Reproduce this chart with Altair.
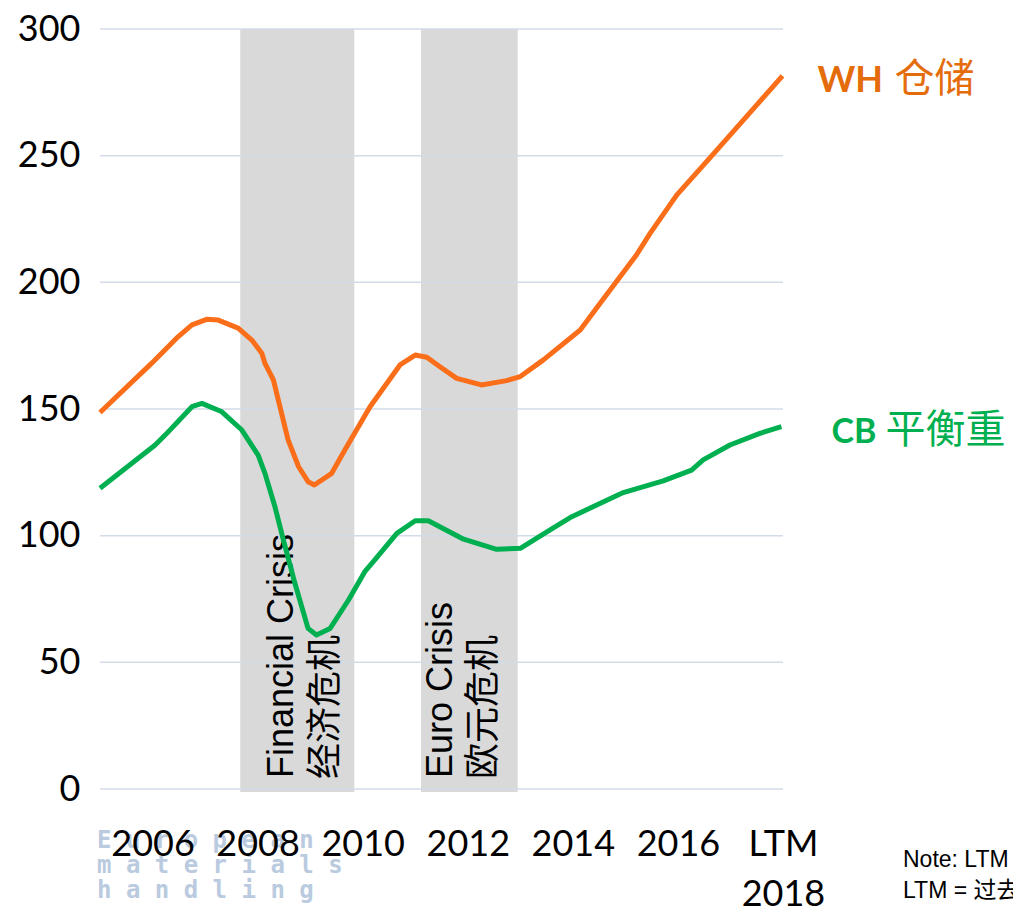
import altair as alt
import pandas as pd

# ---- data ----
wh_year = [2005.00, 2005.98, 2006.49, 2006.75, 2007.03, 2007.25, 2007.63, 2007.89, 2008.08,
           2008.14, 2008.30, 2008.58, 2008.78, 2008.96, 2009.08, 2009.41, 2009.66, 2010.14,
           2010.71, 2011.00, 2011.22, 2011.47, 2011.79, 2012.26, 2012.74, 2013.00, 2013.44,
           2014.14, 2014.52, 2015.21, 2015.47, 2015.98, 2016.74, 2017.99]
wh_value = [148.6, 168.0, 178.6, 183.2, 185.4, 185.1, 181.9, 177.2, 172.0,
            168.0, 161.5, 137.8, 127.2, 121.3, 120.0, 124.6, 133.8, 150.9,
            167.4, 171.3, 170.4, 166.7, 162.1, 159.5, 161.2, 162.8, 169.4,
            181.2, 191.7, 210.8, 219.3, 234.5, 252.2, 281.5]

cb_year = [2005.00, 2006.05, 2006.24, 2006.75, 2006.94, 2007.32, 2007.70, 2008.01, 2008.14,
           2008.33, 2008.49, 2008.71, 2008.96, 2009.12, 2009.38, 2009.73, 2010.04, 2010.23,
           2010.65, 2011.00, 2011.25, 2011.92, 2012.55, 2013.00, 2013.56, 2013.98, 2014.96,
           2015.72, 2016.26, 2016.48, 2016.99, 2017.56, 2017.97]
cb_value = [118.7, 135.8, 139.7, 150.9, 152.2, 148.9, 141.7, 131.8, 124.6,
            111.4, 98.3, 81.2, 63.4, 60.8, 63.4, 74.6, 85.8, 90.4,
            100.9, 105.9, 105.9, 98.6, 94.6, 95.0, 102.2, 107.5, 117.0,
            121.6, 125.9, 129.9, 135.8, 140.4, 143.0]

series_names = ["WH", "CB"]
series_cn = ["仓储", "平衡重"]

crisis_start = [2007.67, 2011.11]
crisis_end = [2009.84, 2012.95]
crisis_en = ["Financial Crisis", "Euro Crisis"]
crisis_cn = ["经济危机", "欧元危机"]

y_ticks = [0, 50, 100, 150, 200, 250, 300]
x_ticks = [2006, 2008, 2010, 2012, 2014, 2016, 2018]
last_label = ["LTM", "2018"]

note_lines = ["Note: LTM = Last Twelve Months", "LTM = 过去十二个月"]
logo_lines = ["E u r o p e a n", "m a t e r i a l s", "h a n d l i n g"]

# ---- styling ----
W, H = 683, 760
ORANGE_LINE = "#FA6E19"
ORANGE_TEXT = "#E46C0A"
GREEN = "#00B050"
GRID = "#D3DBE8"
BAND = "#D9D9D9"
AXIS_FONT = "Lato"
CJK = "Noto Sans CJK SC"

xs = alt.Scale(domain=[2005, 2018], nice=False, zero=False)
ys = alt.Scale(domain=[0, 300], nice=False, zero=True)

# shaded crisis bands
bands_df = pd.DataFrame({"start": crisis_start, "end": crisis_end})
bands = alt.Chart(bands_df).mark_rect(color=BAND).encode(
    x=alt.X("start:Q", scale=xs, axis=None),
    x2="end:Q",
    y=alt.value(0),
    y2=alt.value(H + 3),
)

# horizontal grid lines
grid = alt.Chart(pd.DataFrame({"v": y_ticks})).mark_rule(color=GRID, strokeWidth=1.5).encode(
    y=alt.Y("v:Q", scale=ys, axis=None)
)

# crisis labels (rotated)
def crisis_text(i, texts, dy, dx, font):
    df = pd.DataFrame({"x": [crisis_start[i]], "t": [texts[i]]})
    return alt.Chart(df).mark_text(
        angle=270, align="left", baseline="alphabetic", dx=dx, dy=dy,
        fontSize=36, font=font, color="#000000",
    ).encode(x=alt.X("x:Q", scale=xs, axis=None), y=alt.value(H), text="t:N")

crisis_layers = [
    crisis_text(0, crisis_en, 53, 11, "Liberation Sans"),
    crisis_text(0, crisis_cn, 97, 10, CJK),
    crisis_text(1, crisis_en, 31, 11, "Liberation Sans"),
    crisis_text(1, crisis_cn, 74, 10, CJK),
]

# lines
lines_df = pd.concat([
    pd.DataFrame({"year": wh_year, "value": wh_value, "series": "WH"}),
    pd.DataFrame({"year": cb_year, "value": cb_value, "series": "CB"}),
])
label_expr = "datum.value == 2018 ? ['%s', '%s'] : datum.label" % (last_label[0], last_label[1])
lines = alt.Chart(lines_df).mark_line(strokeWidth=5, strokeJoin="round").encode(
    x=alt.X("year:Q", scale=xs, title=None, axis=alt.Axis(
        values=x_ticks, format="d", labelExpr=label_expr, grid=False, domain=False,
        ticks=False, tickSize=0, labelPadding=38, labelBaseline="top", labelLineHeight=50,
        labelFont=AXIS_FONT, labelFontSize=36, labelColor="#000000", labelFlush=False,
        labelOverlap=False, zindex=1)),
    y=alt.Y("value:Q", scale=ys, title=None, axis=alt.Axis(
        values=y_ticks, grid=False, domain=False, ticks=False, tickSize=0, labelPadding=20,
        labelFont=AXIS_FONT, labelFontSize=36, labelColor="#000000", labelFlush=False,
        labelOverlap=False, zindex=1)),
    color=alt.Color("series:N", scale=alt.Scale(domain=series_names, range=[ORANGE_LINE, GREEN]), legend=None),
    detail="series:N",
)

# series end labels
def end_label(year, value, text, dx, dy, color, font, weight, size):
    df = pd.DataFrame({"year": [year], "value": [value], "t": [text]})
    return alt.Chart(df).mark_text(
        align="left", baseline="alphabetic", dx=dx, dy=dy, fontSize=size,
        font=font, fontWeight=weight, color=color,
    ).encode(x=alt.X("year:Q", scale=xs, axis=None), y=alt.Y("value:Q", scale=ys, axis=None), text="t:N")

end_layers = [
    end_label(wh_year[-1], wh_value[-1], series_names[0], 35, 16, ORANGE_TEXT, AXIS_FONT, "bold", 36),
    end_label(wh_year[-1], wh_value[-1], series_cn[0], 112, 16, ORANGE_TEXT, CJK, "normal", 40),
    end_label(cb_year[-1], cb_value[-1], series_names[1], 50, 16, GREEN, AXIS_FONT, "bold", 34),
    end_label(cb_year[-1], cb_value[-1], series_cn[1], 104, 16, GREEN, CJK, "normal", 40),
]

# note (bottom right) and faded logo (bottom left)
def static_text(text, px, py, size, font, color, weight="normal", opacity=1.0):
    return alt.Chart(pd.DataFrame({"t": [text]})).mark_text(
        align="left", baseline="alphabetic", fontSize=size, font=font, color=color,
        fontWeight=weight, opacity=opacity,
    ).encode(x=alt.value(px), y=alt.value(py), text="t:N")

note_layers = [
    static_text(note_lines[0], 803, 838, 23, "Liberation Sans, Noto Sans CJK SC", "#000000"),
    static_text(note_lines[1], 803, 869, 23, "Liberation Sans, Noto Sans CJK SC", "#000000"),
]

logo_layers = [
    static_text(logo_lines[0], -3, 819, 24, "DejaVu Sans Mono", "#9DB4D2", "bold", 0.7),
    static_text(logo_lines[1], -3, 844, 24, "DejaVu Sans Mono", "#9DB4D2", "bold", 0.7),
    static_text(logo_lines[2], -3, 869, 24, "DejaVu Sans Mono", "#9DB4D2", "bold", 0.7),
]

chart = alt.layer(
    bands, grid, *crisis_layers, *logo_layers, lines, *end_layers, *note_layers
).resolve_axis(
    x="independent", y="independent"
).properties(
    width=W, height=H,
    autosize=alt.AutoSizeParams(type="none"),
    padding={"left": 92, "top": 21, "right": 230, "bottom": 118},
).configure_view(stroke=None)

chart.save("out.html", embed_options={"renderer": "svg", "actions": False})
